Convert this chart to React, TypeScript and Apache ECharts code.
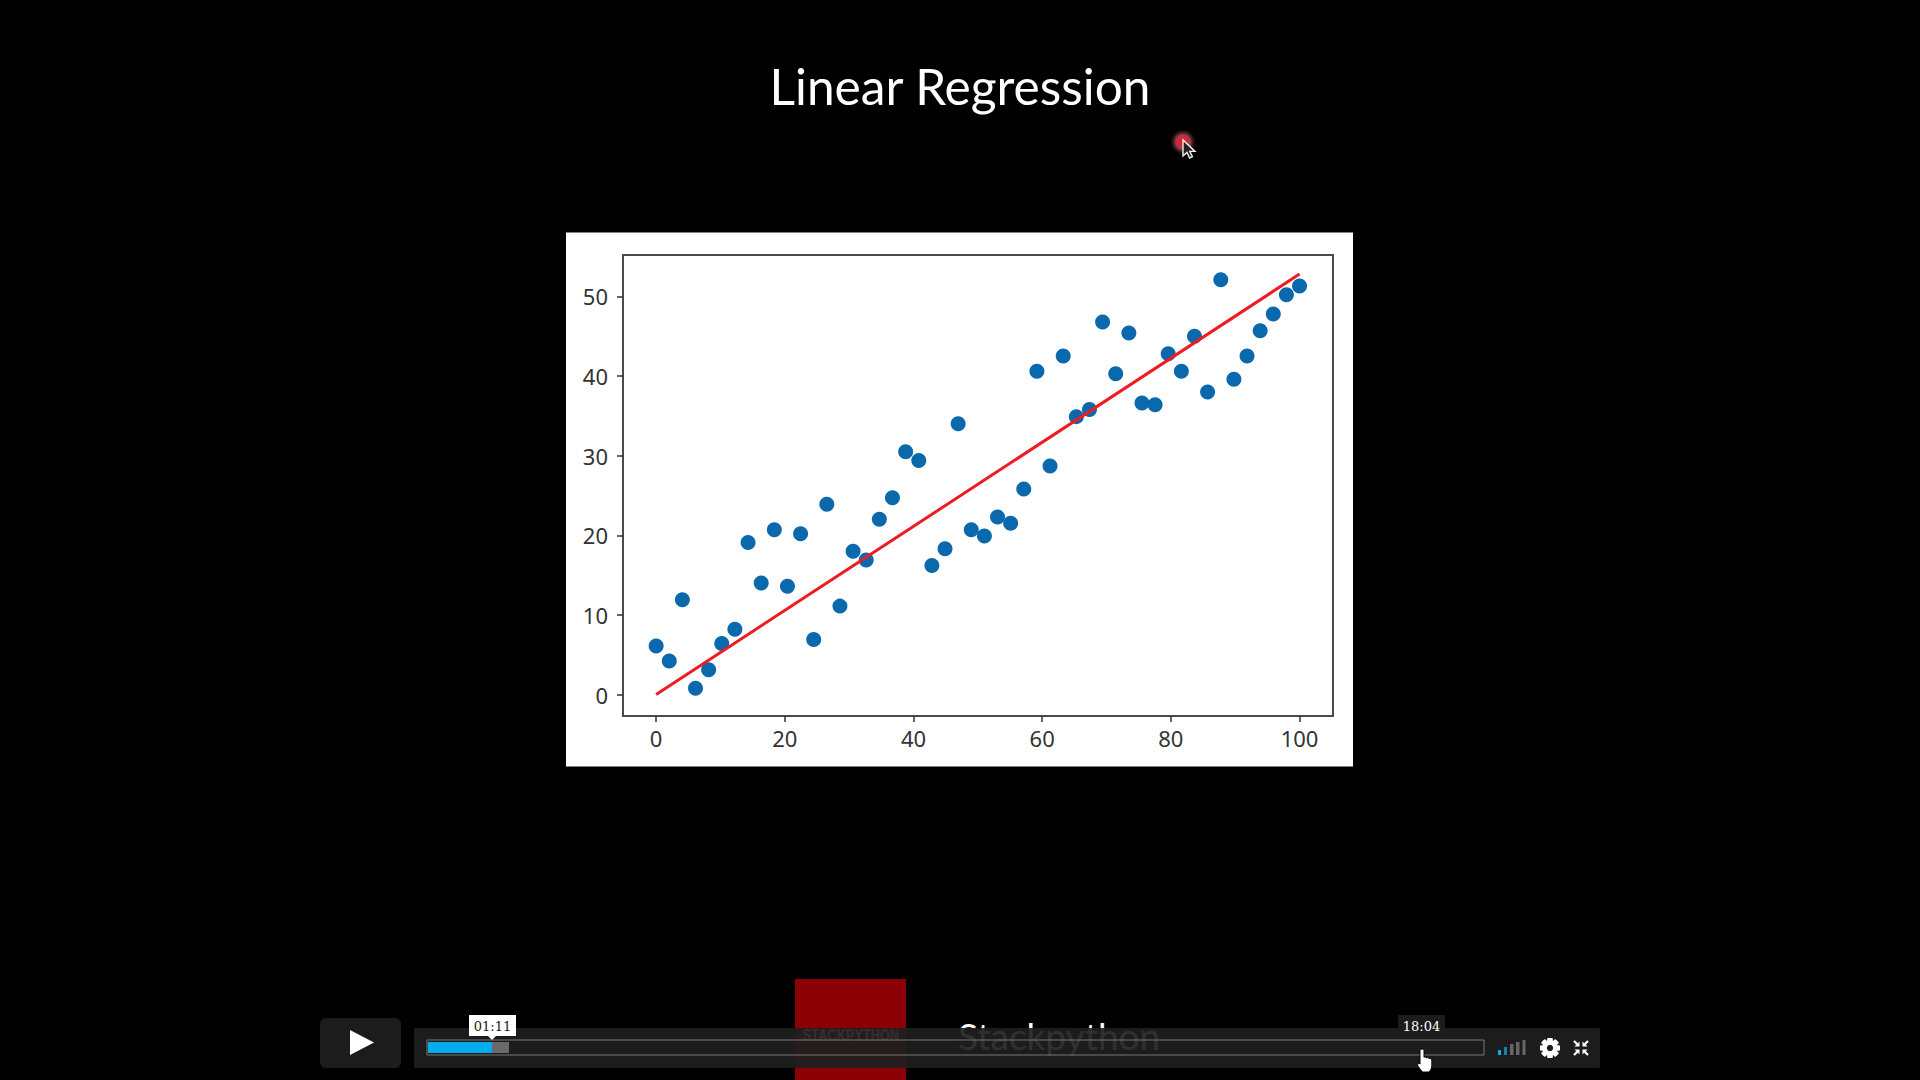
import React, { useEffect, useRef } from "react";
import * as echarts from "echarts";

const titleText = "Linear Regression";
const xTicks = [0, 20, 40, 60, 80, 100];
const yTicks = [0, 10, 20, 30, 40, 50];
const xValues = [0, 2.04, 4.08, 6.12, 8.16, 10.2, 12.24, 14.29, 16.33, 18.37, 20.41, 22.45, 24.49, 26.53, 28.57, 30.61, 32.65, 34.69, 36.73, 38.78, 40.82, 42.86, 44.9, 46.94, 48.98, 51.02, 53.06, 55.1, 57.14, 59.18, 61.22, 63.27, 65.31, 67.35, 69.39, 71.43, 73.47, 75.51, 77.55, 79.59, 81.63, 83.67, 85.71, 87.76, 89.8, 91.84, 93.88, 95.92, 97.96, 100];
const yValues = [6.1, 4.2, 11.9, 0.8, 3.1, 6.4, 8.2, 19.1, 14.0, 20.7, 13.6, 20.2, 6.9, 23.9, 11.1, 18.0, 16.9, 22.0, 24.7, 30.5, 29.4, 16.2, 18.3, 34.0, 20.7, 19.9, 22.3, 21.5, 25.8, 40.6, 28.7, 42.5, 34.9, 35.8, 46.8, 40.3, 45.4, 36.6, 36.4, 42.8, 40.6, 45.0, 38.0, 52.1, 39.6, 42.5, 45.7, 47.8, 50.2, 51.3];
const fitX = [0, 100];
const fitY = [0, 52.8];

echarts.graphic.registerShape(
  "handCursor",
  echarts.graphic.extendPath(
    "M5 0C6.2 0 7 .8 7 2V9C7.6 8.6 9 8.6 9.6 9.6C10.4 9.2 11.8 9.4 12.2 10.4C13.2 10 14.8 10.6 14.8 12V18C14.8 21 13 24 12 25H5.5C4.5 23.5 3 21.5 1.5 19.5C.2 17.8 .4 16.4 1.4 15.9C2.2 15.5 3 16 3 16.4V2C3 .8 3.8 0 5 0Z",
    {}
  )
);
echarts.graphic.registerShape(
  "arrowCursor",
  echarts.graphic.extendPath("M0 0V16L4 12.5L6.6 18L9.4 16.7L6.8 11.4H12Z", {})
);

const BAR = "rgba(30,30,30,0.92)";

function gearTeeth(cx: number, cy: number) {
  const out: any[] = [];
  for (let i = 0; i < 8; i++) {
    out.push({
      type: "rect",
      z: 20,
      x: cx,
      y: cy,
      rotation: (i * Math.PI) / 4,
      shape: { x: -2.6, y: -10, width: 5.2, height: 20, r: 1 },
      style: { fill: "#fff" },
    });
  }
  return out;
}

function cornerArrows(cx: number, cy: number) {
  const s = [
    [-1, -1],
    [1, -1],
    [1, 1],
    [-1, 1],
  ];
  return s.map(([a, b]) => ({
    type: "polygon",
    z: 20,
    shape: {
      points: [
        [cx + a * 1.5, cy + b * 1.5],
        [cx + a * 6.5, cy + b * 1.5],
        [cx + a * 4.8, cy + b * 3.2],
        [cx + a * 7.8, cy + b * 6.2],
        [cx + a * 6.2, cy + b * 7.8],
        [cx + a * 3.2, cy + b * 4.8],
        [cx + a * 1.5, cy + b * 6.5],
      ],
    },
    style: { fill: "#fff" },
  }));
}

export default function App() {
  const ref = useRef<HTMLDivElement>(null);
  useEffect(() => {
    const chart = echarts.init(ref.current!, undefined, { renderer: "svg" });
    chart.setOption({
      animation: false,
      backgroundColor: "#000",
      grid: {
        left: 623,
        top: 255,
        width: 710,
        height: 461,
        show: true,
        backgroundColor: "#fff",
        borderColor: "#4a4a4a",
        borderWidth: 2,
      },
      xAxis: {
        type: "value",
        min: -5.15,
        max: 105.2,
        splitLine: { show: false },
        axisLine: { show: false, onZero: false },
        axisTick: { show: true, length: 6, customValues: xTicks, lineStyle: { color: "#333", width: 1.5 } },
        axisLabel: { customValues: xTicks, color: "#333", fontFamily: "Noto Sans", fontSize: 22, margin: 11 },
      },
      yAxis: {
        type: "value",
        min: -2.7,
        max: 55.2,
        splitLine: { show: false },
        axisLine: { show: false, onZero: false },
        axisTick: { show: true, length: 6, customValues: yTicks, lineStyle: { color: "#333", width: 1.5 } },
        axisLabel: { customValues: yTicks, color: "#333", fontFamily: "Noto Sans", fontSize: 22, margin: 15 },
      },
      series: [
        {
          type: "scatter",
          symbolSize: 15,
          itemStyle: { color: "#0a69ad", opacity: 1 },
          data: xValues.map((x, i) => [x, yValues[i]]),
          z: 3,
        },
        {
          type: "line",
          showSymbol: false,
          lineStyle: { color: "#ee1c22", width: 3 },
          data: fitX.map((x, i) => [x, fitY[i]]),
          z: 4,
        },
      ],
      graphic: [
        { type: "rect", z: -1, shape: { x: 566, y: 232.5, width: 787, height: 534 }, style: { fill: "#fff" } },
        { type: "text", z: 10, style: { x: 960, y: 85.5, text: titleText, fill: "#fff", fontFamily: "Lato", fontSize: 49.6, textAlign: "center", textVerticalAlign: "middle" } },
        // pointer highlight and cursor
        {
          type: "circle",
          z: 10,
          shape: { cx: 1183, cy: 142, r: 13 },
          style: {
            fill: new echarts.graphic.RadialGradient(0.5, 0.5, 0.5, [
              { offset: 0, color: "#ff1020" },
              { offset: 0.28, color: "#e8202c" },
              { offset: 0.55, color: "rgba(180,75,85,0.85)" },
              { offset: 1, color: "rgba(80,30,35,0)" },
            ]),
          },
        },
        { type: "arrowCursor", z: 11, x: 1183, y: 140, style: { fill: "#222", stroke: "#eee", lineWidth: 1.4 } },
        // background logo under the player bar
        { type: "rect", z: 10, shape: { x: 795, y: 979, width: 111, height: 101 }, style: { fill: "#8a0005" } },
        { type: "text", z: 10, x: 851, y: 1035, scaleX: 0.8, style: { x: 0, y: 0, text: "STACKPYTHON", fill: "#fff", fontFamily: "Liberation Sans", fontWeight: "bold", fontSize: 16, textAlign: "center", textVerticalAlign: "middle" } },
        { type: "text", z: 10, style: { x: 958, y: 1035, text: "Stackpython", fill: "#fff", fontFamily: "Lato", fontSize: 37, textAlign: "left", textVerticalAlign: "middle" } },
        // player
        { type: "rect", z: 12, shape: { x: 320, y: 1018, width: 81, height: 50, r: 6 }, style: { fill: BAR } },
        { type: "polygon", z: 13, shape: { points: [[350, 1030], [374, 1042.5], [350, 1055]] }, style: { fill: "#fff" } },
        { type: "rect", z: 12, shape: { x: 414, y: 1028, width: 1186, height: 40, r: 2 }, style: { fill: BAR } },
        { type: "rect", z: 13, shape: { x: 427, y: 1040, width: 1057, height: 15 }, style: { fill: "none", stroke: "#777", lineWidth: 1 } },
        { type: "rect", z: 13, shape: { x: 492, y: 1042, width: 17, height: 11 }, style: { fill: "#6a6a6a" } },
        { type: "rect", z: 13, shape: { x: 428, y: 1042, width: 64, height: 11 }, style: { fill: "#00adef" } },
        { type: "rect", z: 14, shape: { x: 469, y: 1015, width: 47, height: 21 }, style: { fill: "#fff" } },
        { type: "polygon", z: 14, shape: { points: [[488, 1036], [496, 1036], [492, 1040]] }, style: { fill: "#fff" } },
        { type: "text", z: 15, style: { x: 492.5, y: 1026, text: "01:11", fill: "#222", fontFamily: "DejaVu Serif", fontSize: 13, textAlign: "center", textVerticalAlign: "middle" } },
        { type: "rect", z: 14, shape: { x: 1398, y: 1015, width: 47, height: 21 }, style: { fill: "#1c1c1c" } },
        { type: "text", z: 15, style: { x: 1421.5, y: 1026, text: "18:04", fill: "#fff", fontFamily: "DejaVu Serif", fontSize: 13, textAlign: "center", textVerticalAlign: "middle" } },
        // signal bars
        { type: "rect", z: 15, shape: { x: 1498, y: 1050, width: 3, height: 5 }, style: { fill: "#00adef" } },
        { type: "rect", z: 15, shape: { x: 1504, y: 1047, width: 3, height: 8 }, style: { fill: "#1f7fa8" } },
        { type: "rect", z: 15, shape: { x: 1510, y: 1044, width: 3.5, height: 11 }, style: { fill: "#666" } },
        { type: "rect", z: 15, shape: { x: 1516, y: 1042, width: 3.5, height: 13 }, style: { fill: "#666" } },
        { type: "rect", z: 15, shape: { x: 1522.5, y: 1040, width: 3, height: 15 }, style: { fill: "#666" } },
        // settings and fullscreen icons
        ...gearTeeth(1550, 1048),
        { type: "circle", z: 21, shape: { cx: 1550, cy: 1048, r: 7.5 }, style: { fill: "#fff" } },
        { type: "circle", z: 22, shape: { cx: 1550, cy: 1048, r: 3.2 }, style: { fill: "#1c1c1c" } },
        ...cornerArrows(1581, 1048),
        { type: "handCursor", z: 30, x: 1417, y: 1049, scaleY: 0.92, style: { fill: "#fff", stroke: "#000", lineWidth: 1 } },
      ],
    });
    return () => chart.dispose();
  }, []);
  return <div ref={ref} style={{ position: "fixed", left: 0, top: 0, width: 1920, height: 1080 }} />;
}
